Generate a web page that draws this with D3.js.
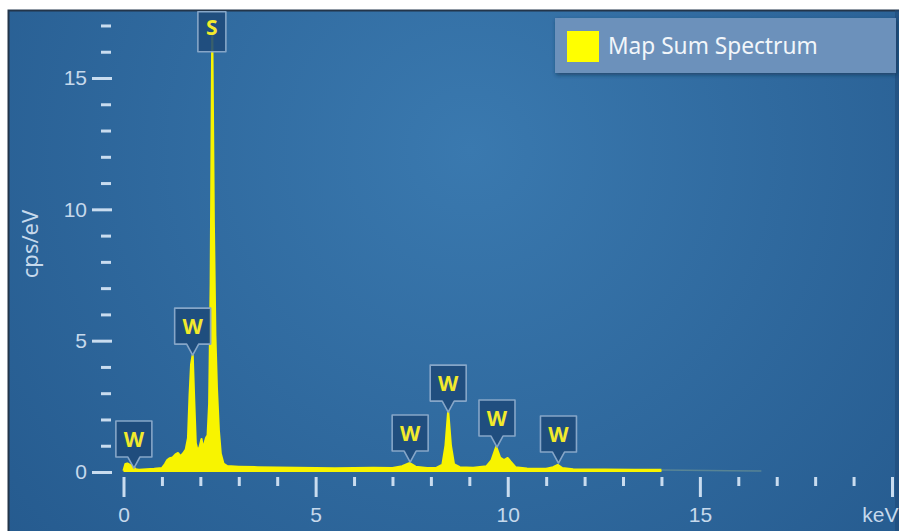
<!DOCTYPE html>
<html>
<head>
<meta charset="utf-8">
<script src="https://cdn.jsdelivr.net/npm/d3@7"></script>
<style>
  html, body { margin: 0; padding: 0; background: #fff; }
  svg { display: block; font-family: "Noto Sans", "Open Sans", sans-serif; }
</style>
</head>
<body>
<script>
// * DATA
// spectrum: energy (keV) and intensity (cps/eV)
const energy = [0.00, 0.05, 0.10, 0.18, 0.25, 0.32, 0.40, 0.60, 0.80, 1.00, 1.08, 1.14, 1.20, 1.28, 1.36, 1.42, 1.48, 1.55, 1.62, 1.68, 1.72, 1.76, 1.80, 1.84, 1.88, 1.93, 1.98, 2.03, 2.07, 2.11, 2.15, 2.19, 2.23, 2.27, 2.31, 2.35, 2.39, 2.43, 2.48, 2.53, 2.60, 2.70, 3.00, 3.50, 4.00, 4.50, 5.00, 5.50, 6.00, 6.50, 7.00, 7.25, 7.45, 7.60, 7.90, 8.15, 8.30, 8.38, 8.45, 8.52, 8.60, 8.75, 9.10, 9.45, 9.58, 9.70, 9.80, 9.90, 10.00, 10.07, 10.20, 10.50, 11.00, 11.18, 11.30, 11.42, 11.70, 12.50, 13.30, 14.00];
const cps    = [0.05, 0.30, 0.32, 0.26, 0.20, 0.10, 0.08, 0.10, 0.12, 0.15, 0.30, 0.45, 0.52, 0.55, 0.68, 0.72, 0.60, 0.70, 0.85, 1.30, 2.90, 4.10, 4.45, 2.70, 1.10, 0.80, 0.95, 1.25, 0.85, 1.10, 1.30, 1.40, 2.60, 7.20, 16.6, 9.50, 5.20, 3.20, 1.60, 0.70, 0.32, 0.22, 0.20, 0.18, 0.17, 0.16, 0.15, 0.14, 0.15, 0.16, 0.15, 0.22, 0.34, 0.20, 0.15, 0.16, 0.28, 1.00, 2.30, 1.00, 0.30, 0.18, 0.16, 0.22, 0.45, 0.96, 0.55, 0.45, 0.53, 0.40, 0.18, 0.13, 0.12, 0.18, 0.27, 0.15, 0.10, 0.09, 0.08, 0.08];
// faint tail past 14 keV
const tailEnergy = [14.0, 14.6, 15.2, 15.8, 16.6];
const tailCps    = [0.08, 0.07, 0.06, 0.05, 0.04];

// peak labels: element, energy (keV), value where the callout tip sits (cps/eV)
const peakNames  = ["W", "W", "S", "W", "W", "W", "W"];
const peakEnergy = [0.27, 1.80, 2.30, 7.46, 8.45, 9.72, 11.32];
const peakTip    = [0.15, 4.45, 16.0, 0.38, 2.28, 0.95, 0.34];

const xTicks = d3.range(0, 21);
const yTicks = d3.range(0, 18);
const legendLabel = "Map Sum Spectrum";

// * SETUP
const width = 899, height = 531;
const x = d3.scaleLinear().domain([0, 20]).range([123.5, 892]);
const y = d3.scaleLinear().domain([0, 15]).range([472, 78]);

const svg = d3.select("body").append("svg")
  .attr("width", width)
  .attr("height", height)
  .attr("viewBox", [0, 0, width, height]);

const defs = svg.append("defs");
const bg = defs.append("radialGradient")
  .attr("id", "bg")
  .attr("gradientUnits", "userSpaceOnUse")
  .attr("cx", 470).attr("cy", 150).attr("r", 620);
bg.append("stop").attr("offset", "0%").attr("stop-color", "#3a79af");
bg.append("stop").attr("offset", "100%").attr("stop-color", "#255a8e");

const shadow = defs.append("filter").attr("id", "shadow")
  .attr("x", "-10%").attr("y", "-20%").attr("width", "120%").attr("height", "160%");
shadow.append("feDropShadow")
  .attr("dx", 1).attr("dy", 2).attr("stdDeviation", 2)
  .attr("flood-color", "#0d2a48").attr("flood-opacity", 0.6);

// * BACKGROUND PANEL
svg.append("rect")
  .attr("x", 8).attr("y", 10)
  .attr("width", width - 8).attr("height", height - 10)
  .attr("fill", "url(#bg)");
svg.append("path")
  .attr("d", `M8.5,${height}V10.5H${width}`)
  .attr("fill", "none")
  .attr("stroke", "#23354a")
  .attr("stroke-width", 2);
svg.append("line")
  .attr("x1", width - 2).attr("x2", width - 2)
  .attr("y1", 10).attr("y2", height)
  .attr("stroke", "#1f4a78").attr("stroke-width", 4).attr("opacity", 0.6);

// * SPECTRUM
const pts = energy.map((e, i) => [e, cps[i]]);
const area = d3.area()
  .x(d => x(d[0]))
  .y0(y(0))
  .y1(d => y(d[1]));
const line = d3.line()
  .x(d => x(d[0]))
  .y(d => y(d[1]));

svg.append("path")
  .datum(pts)
  .attr("fill", "#f8f400")
  .attr("d", area);
svg.append("path")
  .datum(pts)
  .attr("fill", "none")
  .attr("stroke", "#f8f400")
  .attr("stroke-width", 2.2)
  .attr("stroke-linejoin", "round")
  .attr("d", line);
svg.append("path")
  .datum(tailEnergy.map((e, i) => [e, tailCps[i]]))
  .attr("fill", "none")
  .attr("stroke", "#a9bf8e")
  .attr("stroke-opacity", 0.35)
  .attr("stroke-width", 1.5)
  .attr("d", line);

// * AXES
const tickColor = "#c9dcef";
const labelColor = "#c6d9ec";

const yAxis = svg.append("g")
  .attr("transform", "translate(112,0)")
  .call(d3.axisLeft(y).tickValues(yTicks).tickSize(20).tickPadding(5)
    .tickFormat(d => d % 5 === 0 ? d : ""));
yAxis.select(".domain").remove();
yAxis.selectAll(".tick line")
  .attr("stroke", tickColor)
  .attr("stroke-width", 3)
  .attr("x1", d => d % 5 === 0 ? 0 : -1)
  .attr("x2", d => d % 5 === 0 ? -20 : -11);
yAxis.selectAll(".tick text")
  .attr("fill", labelColor)
  .attr("font-size", 21);

const xAxis = svg.append("g")
  .attr("transform", "translate(0,477)")
  .call(d3.axisBottom(x).tickValues(xTicks).tickSize(20)
    .tickFormat(d => d === 20 ? "keV" : d % 5 === 0 ? d : ""));
xAxis.select(".domain").remove();
xAxis.selectAll(".tick line")
  .attr("stroke", tickColor)
  .attr("stroke-width", 3)
  .attr("y2", d => d % 5 === 0 ? 20 : 9);
xAxis.selectAll(".tick text")
  .attr("fill", labelColor)
  .attr("font-size", 21)
  .attr("y", 30)
  .attr("text-anchor", d => d === 20 ? "end" : "middle")
  .attr("dx", d => d === 20 ? 6 : 0);

svg.append("text")
  .attr("transform", "translate(38,244) rotate(-90)")
  .attr("text-anchor", "middle")
  .attr("fill", labelColor)
  .attr("font-size", 22)
  .text("cps/eV");

// * PEAK LABELS
const boxW = 36, boxH = 36, notch = 11;
const peaks = peakNames.map((n, i) => ({ name: n, e: peakEnergy[i], tip: peakTip[i] }));
const lab = svg.append("g")
  .selectAll("g")
  .data(peaks)
  .join("g")
  .attr("transform", d => `translate(${x(d.e)},${y(d.tip)})`);

lab.append("path")
  .attr("fill", "#1e4a7a")
  .attr("fill-opacity", 0.88)
  .attr("stroke", "#86a6c8")
  .attr("stroke-width", 1.6)
  .attr("stroke-linejoin", "round")
  .attr("d", d => {
    const w = d.name === "S" ? 28 : boxW;
    const h = d.name === "S" ? 40 : boxH;
    const n = d.name === "S" ? 0 : notch;
    const b = -n, t = -n - h, l = -w / 2, r = w / 2;
    return n > 0
      ? `M0,0L-6,${b}H${l}V${t}H${r}V${b}H6Z`
      : `M${l},${b}V${t}H${r}V${b}Z`;
  });

lab.append("text")
  .attr("text-anchor", "middle")
  .attr("y", d => d.name === "S" ? -17 : -notch - 10)
  .attr("fill", "#f2ea2c")
  .attr("font-weight", "bold")
  .attr("font-size", 21)
  .text(d => d.name);

// * LEGEND
const legend = svg.append("g").attr("transform", "translate(555,18)");
legend.append("rect")
  .attr("width", 341).attr("height", 55)
  .attr("fill", "#6c91bb")
  .attr("filter", "url(#shadow)");
legend.append("rect")
  .attr("x", 12).attr("y", 13)
  .attr("width", 32).attr("height", 31)
  .attr("fill", "#ffff00");
legend.append("text")
  .attr("x", 53).attr("y", 36)
  .attr("fill", "#f2f6fa")
  .attr("font-size", 22.7)
  .text(legendLabel);
</script>
</body>
</html>
